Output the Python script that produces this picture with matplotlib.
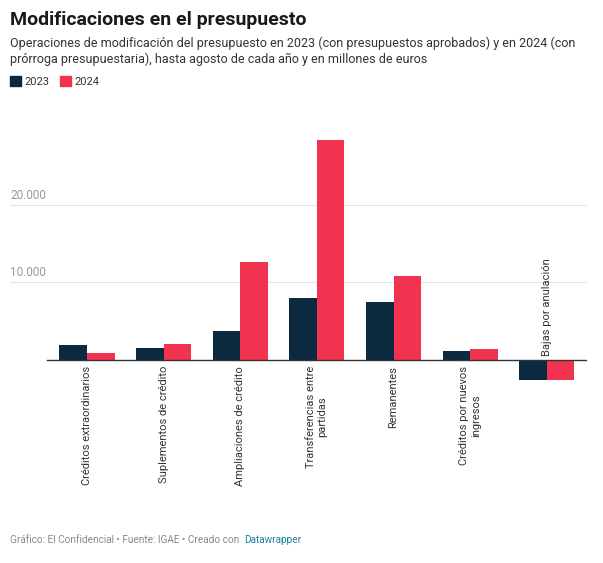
import matplotlib
matplotlib.use("Agg")
import matplotlib.pyplot as plt
import numpy as np

plt.rcParams['font.family'] = ['Roboto', 'DejaVu Sans']

categories = ["Créditos extraordinarios", "Suplementos de crédito", "Ampliaciones de crédito",
              "Transferencias entre\npartidas", "Remanentes", "Créditos por nuevos\ningresos",
              "Bajas por anulación"]
v2023 = [1900, 1550, 3750, 8000, 7500, 1150, -2600]
v2024 = [900, 2050, 12650, 28400, 10850, 1400, -2600]
yticks = [10000, 20000]
yticklabels = ["10.000", "20.000"]

c23 = "#0b2a3f"; c24 = "#f2334f"
fig = plt.figure(figsize=(6.03, 5.63), dpi=100)
ax = fig.add_axes([0.017, 0.315, 0.956, 0.465])
x = np.arange(len(categories))
w = 0.36
ax.bar(x - w/2, v2023, w, color=c23, zorder=3)
ax.bar(x + w/2, v2024, w, color=c24, zorder=3)
ax.set_xlim(-1.0, 6.52)
ax.set_ylim(-3350, 30450)
for s in ax.spines.values():
    s.set_visible(False)
ax.set_xticks([]); ax.set_yticks([])
ax.plot([-0.52, 6.52], [0, 0], color="#333333", lw=1, zorder=4)
for t, l in zip(yticks, yticklabels):
    ax.axhline(t, color="#e6e6e6", lw=0.8, zorder=1)
    ax.text(-1.0, t + 400, l, color="#999999", fontsize=8.5, va="bottom", ha="left")
for xi, c, a, b in zip(x, categories, v2023, v2024):
    if min(a, b) < 0:
        ax.text(xi, 500, c, rotation=90, ha="center", va="bottom", fontsize=8, color="#333333")
    else:
        ax.text(xi, -800, c, rotation=90, ha="center", va="top", fontsize=8, color="#333333", multialignment="center")

fig.text(0.017, 0.955, "Modificaciones en el presupuesto", fontsize=14, fontweight="bold", color="#1a1a1a")
fig.text(0.017, 0.888, "Operaciones de modificación del presupuesto en 2023 (con presupuestos aprobados) y en 2024 (con\nprórroga presupuestaria), hasta agosto de cada año y en millones de euros",
         fontsize=9, color="#333333", linespacing=1.3)
fig.patches.append(plt.Rectangle((0.017, 0.847), 0.018, 0.018, color=c23, transform=fig.transFigure))
fig.text(0.04, 0.849, "2023", fontsize=8, color="#333333")
fig.patches.append(plt.Rectangle((0.1, 0.847), 0.018, 0.018, color=c24, transform=fig.transFigure))
fig.text(0.123, 0.849, "2024", fontsize=8, color="#333333")
t1 = fig.text(0.017, 0.035, "Gráfico: El Confidencial • Fuente: IGAE • Creado con", fontsize=7.2, color="#888888")
fig.text(0, 0, "Datawrapper", fontsize=7.2, color="#1d81a2")
fig.texts[-1].remove()
ax.annotate("Datawrapper", xy=(1, 0), xycoords=t1, xytext=(3, 0), textcoords="offset points",
            fontsize=7.2, color="#1d81a2", va="bottom", ha="left", annotation_clip=False)
fig.savefig("out.png", dpi=100, facecolor="white")
